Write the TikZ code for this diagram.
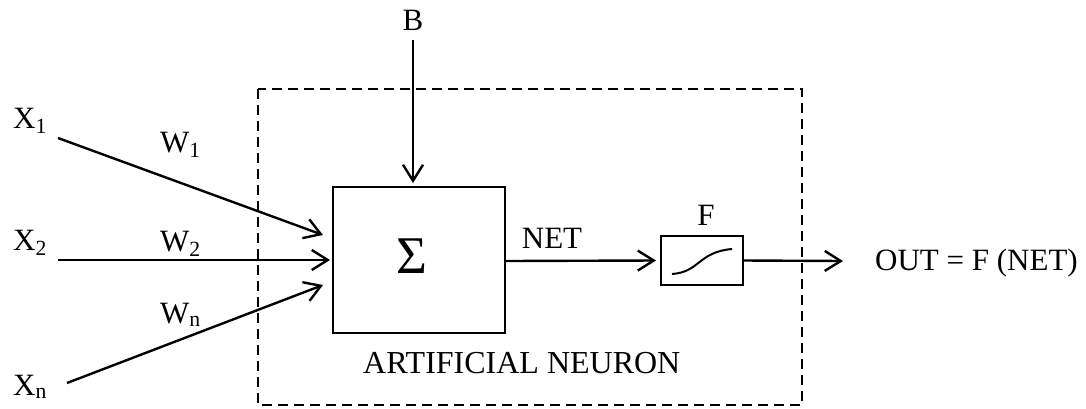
\documentclass[tikz,border=0pt]{standalone}
\usepackage{fontspec}
\setmainfont{Liberation Serif}
\usetikzlibrary{arrows.meta}
\begin{document}
\begin{tikzpicture}[x=1pt,y=-1pt,
  lbl/.style={inner sep=0pt,font=\fontsize{31}{36}\selectfont},
  conn/.style={line width=2.4pt,-{Straight Barb[length=16pt,width=20pt,line width=2.4pt]}},
  boxstyle/.style={draw,line width=2pt,rectangle,inner sep=0pt},
  frame/.style={draw,line width=1.8pt,dash pattern=on 10pt off 6pt}]
\useasboundingbox (0,0) rectangle (1086,408);
% frame
\draw[frame] (258,89) rectangle (802,405);
% boxes
\node[boxstyle,minimum width=172pt,minimum height=146pt] (sum) at (419,260) {};
\node[boxstyle,minimum width=82pt,minimum height=49pt] (act) at (702,260.5) {};
\node[inner sep=0pt,anchor=base,font=\fontsize{53}{60}\selectfont] (sig) at (412,273) {Σ};
% labels
\node[lbl,anchor=base west] (lx1) at (13,128) {X\textsubscript{1}};
\node[lbl,anchor=base west] (lx2) at (13,250) {X\textsubscript{2}};
\node[lbl,anchor=base west] (lxn) at (13,395) {X\textsubscript{n}};
\node[lbl,anchor=base west] (lw1) at (160,152) {W\textsubscript{1}};
\node[lbl,anchor=base west] (lw2) at (160,251) {W\textsubscript{2}};
\node[lbl,anchor=base west] (lwn) at (160,323) {W\textsubscript{n}};
\node[lbl,anchor=base] (lb) at (413,30) {B};
\node[lbl,anchor=base] (lnet) at (552,248) {NET};
\node[lbl,anchor=base] (lf) at (706,225) {F};
\node[lbl,anchor=base west] (lout) at (875,270) {OUT = F (NET)};
\node[lbl,anchor=base west,font=\fontsize{32}{36}\selectfont] (lan) at (363,373) {ARTIFICIAL NEURON};
% connector ends
\coordinate (x1s) at (58,138);
\coordinate (x2s) at (58,260);
\coordinate (xns) at (67,383);
\coordinate (bs) at (413,40);
\coordinate (x1e) at (323,235);
\coordinate (x2e) at (330,260);
\coordinate (xne) at (323,285);
\coordinate (be) at (413,183);
\coordinate (oute) at (843,261);
% connectors
\draw[conn] (x1s) -- (x1e);
\draw[conn] (x2s) -- (x2e);
\draw[conn] (xns) -- (xne);
\draw[conn] (bs) -- (be);
\draw[conn] (sum.east |- 0,261) -- ([xshift=-4pt]act.west);
\draw[conn] (act.east) -- (oute);
% sigmoid
\draw[line width=2pt] (672,274) .. controls (700,272) and (698,252) .. (732,249);
\end{tikzpicture}
\end{document}
